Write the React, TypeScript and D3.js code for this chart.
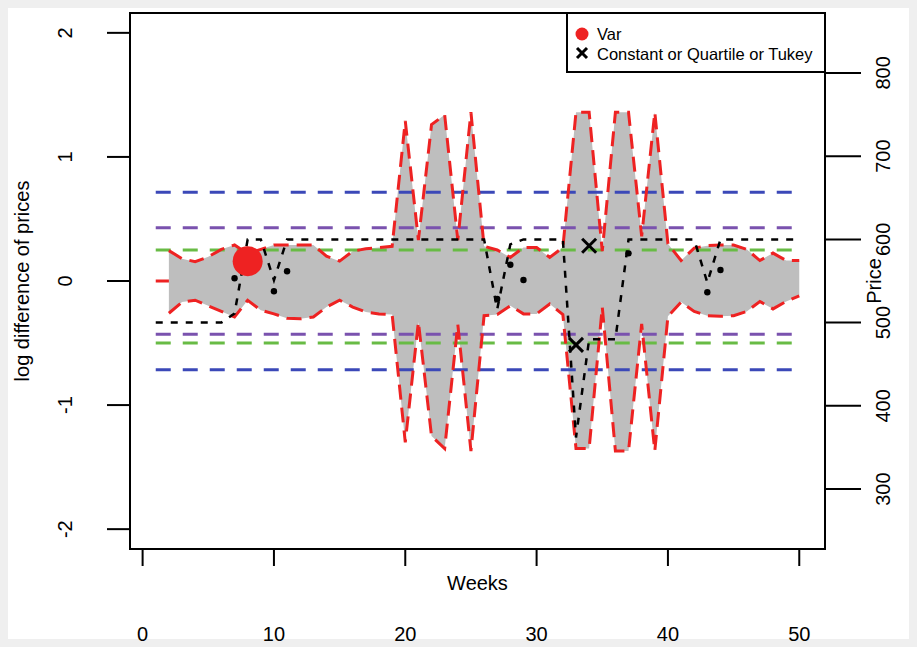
import React from "react";
import * as d3 from "d3";

// ---------- data ----------
const weeks = Array.from({ length: 50 }, (_, i) => i + 1);
const price = [
  500, 500, 500, 500, 500, 500, 511, 600, 600, 551,
  600, 600, 600, 600, 600, 600, 600, 600, 600, 600,
  600, 600, 600, 600, 600, 600, 516, 594, 600, 600,
  600, 600, 362, 480, 480, 480, 600, 600, 600, 600,
  600, 600, 548, 600, 600, 600, 600, 600, 600, 600,
];
const bandWeeks = Array.from({ length: 49 }, (_, i) => i + 2);
const bandUpper = [
  0.245, 0.18, 0.155, 0.195, 0.255, 0.29, 0.22, 0.255, 0.29, 0.29,
  0.29, 0.29, 0.2, 0.16, 0.24, 0.26, 0.27, 0.28, 1.29, 0.33,
  1.26, 1.34, 0.33, 1.36, 0.28, 0.25, 0.19, 0.27, 0.27, 0.19,
  0.27, 1.36, 1.36, 0.24, 1.36, 1.36, 0.36, 1.36, 0.3, 0.165,
  0.265, 0.285, 0.29, 0.29, 0.255, 0.165, 0.225, 0.165, 0.165,
];
const bandLower = [
  -0.26, -0.17, -0.155, -0.2, -0.245, -0.29, -0.155, -0.235, -0.265, -0.3,
  -0.305, -0.29, -0.21, -0.155, -0.21, -0.25, -0.265, -0.27, -1.3, -0.33,
  -1.25, -1.35, -0.35, -1.37, -0.28, -0.27, -0.2, -0.265, -0.265, -0.185,
  -0.27, -1.35, -1.35, -0.21, -1.37, -1.37, -0.345, -1.37, -0.285, -0.17,
  -0.245, -0.28, -0.285, -0.28, -0.245, -0.165, -0.225, -0.165, -0.12,
];
const pointWeeks = [7, 10, 11, 27, 28, 29, 37, 43, 44];
const pointValues = [0.022, -0.083, 0.078, -0.145, 0.131, 0.008, 0.223, -0.091, 0.089];
const varWeeks = [8];
const varValues = [0.16];
const tukeyWeeks = [33, 34];
const tukeyValues = [-0.515, 0.284];
const refLevels = [0.716, -0.716, 0.43, -0.43, 0.25, -0.5];
const refColors = ["#3b48b8", "#3b48b8", "#7a52ae", "#7a52ae", "#68bb45", "#68bb45"];
const xTicks = [0, 10, 20, 30, 40, 50];
const yTicks = [-2, -1, 0, 1, 2];
const priceTicks = [300, 400, 500, 600, 700, 800];
const legendLabels = ["Var", "Constant or Quartile or Tukey"];

// ---------- layout ----------
const W = 917;
const H = 647;
const box = { l: 130, r: 825, t: 13, b: 549 };
const FONT = "Liberation Sans, Arial, sans-serif";

export default function App() {
  const x = d3.scaleLinear().domain([-0.96, 51.96]).range([box.l, box.r]);
  const y = d3.scaleLinear().domain([-2.16, 2.16]).range([box.b, box.t]);
  const yP = d3.scaleLinear().domain([228, 872]).range([box.b, box.t]);

  const bandData = bandWeeks.map((w, i) => ({ w, u: bandUpper[i], l: bandLower[i] }));
  const area = d3
    .area<{ w: number; u: number; l: number }>()
    .x((d) => x(d.w))
    .y0((d) => y(d.l))
    .y1((d) => y(d.u));
  const lineU = d3
    .line<{ w: number; u: number; l: number }>()
    .x((d) => x(d.w))
    .y((d) => y(d.u));
  const lineL = d3
    .line<{ w: number; u: number; l: number }>()
    .x((d) => x(d.w))
    .y((d) => y(d.l));
  const priceLine = d3
    .line<number>()
    .x((_, i) => x(weeks[i]))
    .y((d) => yP(d));

  const w0 = weeks[0];
  const wN = weeks[weeks.length - 1];

  return (
    <svg
      width={W}
      height={H}
      style={{ position: "absolute", left: 0, top: 0, display: "block" }}
      fontFamily={FONT}
    >
      <rect x={0} y={0} width={W} height={H} fill="#efefef" />
      <rect x={8} y={8} width={W - 16} height={H - 16} fill="#ffffff" />

      {/* zero line (mostly hidden behind band) */}
      <line
        x1={x(w0)}
        x2={x(wN)}
        y1={y(0)}
        y2={y(0)}
        stroke="#ee2222"
        strokeWidth={3}
        strokeDasharray="15,8"
      />

      {/* gray band */}
      <path d={area(bandData) || ""} fill="#bebebe" stroke="none" />

      {/* reference levels */}
      {refLevels.map((v, i) => (
        <line
          key={"ref" + i}
          x1={x(w0)}
          x2={x(wN)}
          y1={y(v)}
          y2={y(v)}
          stroke={refColors[i]}
          strokeWidth={3}
          strokeDasharray="15,12"
        />
      ))}

      {/* red band edges */}
      <path d={lineU(bandData) || ""} fill="none" stroke="#ee2222" strokeWidth={3} strokeDasharray="15,8" />
      <path d={lineL(bandData) || ""} fill="none" stroke="#ee2222" strokeWidth={3} strokeDasharray="15,8" />

      {/* price line */}
      <path d={priceLine(price) || ""} fill="none" stroke="#000" strokeWidth={2.5} strokeDasharray="7,8" />

      {/* points */}
      {pointWeeks.map((w, i) => (
        <circle key={"p" + i} cx={x(w)} cy={y(pointValues[i])} r={3.2} fill="#000" />
      ))}
      {varWeeks.map((w, i) => (
        <circle key={"v" + i} cx={x(w)} cy={y(varValues[i])} r={15} fill="#ee2222" />
      ))}
      {tukeyWeeks.map((w, i) => {
        const cx = x(w);
        const cy = y(tukeyValues[i]);
        const s = 7;
        return (
          <g key={"t" + i} stroke="#000" strokeWidth={3}>
            <line x1={cx - s} y1={cy - s} x2={cx + s} y2={cy + s} />
            <line x1={cx - s} y1={cy + s} x2={cx + s} y2={cy - s} />
          </g>
        );
      })}

      {/* box */}
      <rect
        x={box.l}
        y={box.t}
        width={box.r - box.l}
        height={box.b - box.t}
        fill="none"
        stroke="#000"
        strokeWidth={2}
      />

      {/* left axis */}
      {yTicks.map((t) => (
        <g key={"yt" + t}>
          <line x1={box.l - 23} x2={box.l} y1={y(t)} y2={y(t)} stroke="#000" strokeWidth={2} />
          <text
            x={72}
            y={y(t)}
            fontSize={20}
            textAnchor="middle"
            transform={`rotate(-90, 72, ${y(t)})`}
            fill="#000"
          >
            {t}
          </text>
        </g>
      ))}
      <text
        x={29}
        y={(box.t + box.b) / 2}
        fontSize={20}
        textAnchor="middle"
        transform={`rotate(-90, 29, ${(box.t + box.b) / 2})`}
      >
        log difference of prices
      </text>

      {/* right axis */}
      {priceTicks.map((t) => (
        <g key={"pt" + t}>
          <line x1={box.r} x2={box.r + 36} y1={yP(t)} y2={yP(t)} stroke="#000" strokeWidth={2} />
          <text
            x={890}
            y={yP(t)}
            fontSize={20}
            textAnchor="middle"
            transform={`rotate(-90, 890, ${yP(t)})`}
          >
            {t}
          </text>
        </g>
      ))}
      <text
        x={881}
        y={(box.t + box.b) / 2}
        fontSize={20}
        textAnchor="middle"
        transform={`rotate(-90, 881, ${(box.t + box.b) / 2})`}
      >
        Price
      </text>

      {/* bottom axis */}
      {xTicks.map((t) => (
        <g key={"xt" + t}>
          <line x1={x(t)} x2={x(t)} y1={box.b} y2={box.b + 17} stroke="#000" strokeWidth={2} />
          <text x={x(t)} y={641} fontSize={20} textAnchor="middle">
            {t}
          </text>
        </g>
      ))}
      <text x={(box.l + box.r) / 2} y={590} fontSize={20} textAnchor="middle">
        Weeks
      </text>

      {/* legend */}
      <g>
        <rect x={567} y={box.t} width={box.r - 567} height={59} fill="#fff" stroke="#000" strokeWidth={2} />
        <circle cx={582} cy={34} r={6.5} fill="#ee2222" />
        <text x={597} y={40} fontSize={16.5}>
          {legendLabels[0]}
        </text>
        <g stroke="#000" strokeWidth={3}>
          <line x1={577} y1={48} x2={587} y2={58} />
          <line x1={577} y1={58} x2={587} y2={48} />
        </g>
        <text x={597} y={59.5} fontSize={16.5}>
          {legendLabels[1]}
        </text>
      </g>
    </svg>
  );
}
